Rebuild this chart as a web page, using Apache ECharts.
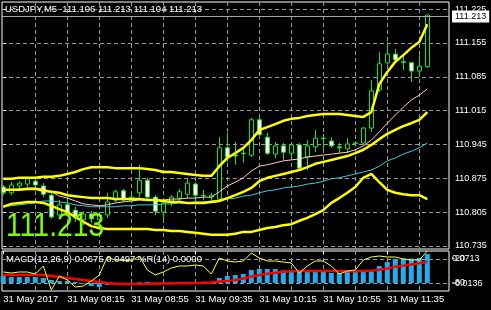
<!DOCTYPE html>
<html><head><meta charset="utf-8">
<script src="https://cdn.jsdelivr.net/npm/echarts@6/dist/echarts.min.js"></script>
<style>html,body{margin:0;padding:0;background:#000;}#c{width:491px;height:310px;}</style>
</head><body><div id="c"></div>
<script>
const times = ['07:35','07:40','07:45','07:50','07:55','08:00','08:05','08:10','08:15','08:20','08:25','08:30','08:35','08:40','08:45','08:50','08:55','09:00','09:05','09:10','09:15','09:20','09:25','09:30','09:35','09:40','09:45','09:50','09:55','10:00','10:05','10:10','10:15','10:20','10:25','10:30','10:35','10:40','10:45','10:50','10:55','11:00','11:05','11:10','11:15','11:20','11:25','11:30','11:35','11:40','11:45','11:50','11:55','12:00'];
const xTickIdx = [0,8,16,24,32,40,48];
const xTickLabels = ['31 May 2017','31 May 08:15','31 May 08:55','31 May 09:35','31 May 10:15','31 May 10:55','31 May 11:35'];
const xGridIdx = [4,8,12,16,20,24,28,32,36,40,44,48,52];
const priceTicks = [110.735,110.805,110.875,110.945,111.015,111.085,111.155,111.225];

const open  = [110.857,110.845,110.859,110.863,110.869,110.859,110.840,110.799,110.820,110.809,110.789,110.801,110.789,110.799,110.830,110.849,110.828,110.845,110.871,110.836,110.805,110.828,110.834,110.842,110.863,110.840,110.836,110.832,110.938,110.923,110.927,110.923,110.996,110.960,110.925,110.942,110.927,110.944,110.919,110.940,110.957,110.952,110.940,110.936,110.948,110.948,110.979,111.058,111.114,111.132,111.116,111.114,111.097,111.106];
const close = [110.845,110.861,110.865,110.874,110.861,110.842,110.795,110.820,110.805,110.793,110.801,110.791,110.799,110.826,110.847,110.830,110.836,110.871,110.836,110.807,110.824,110.836,110.847,110.865,110.840,110.839,110.840,110.938,110.919,110.921,110.926,110.996,110.965,110.927,110.942,110.929,110.944,110.896,110.942,110.958,110.958,110.942,110.938,110.946,110.947,110.979,111.056,111.112,111.132,111.120,111.115,111.097,111.107,111.213];
const low   = [110.840,110.840,110.849,110.857,110.855,110.836,110.791,110.793,110.797,110.785,110.778,110.782,110.780,110.793,110.826,110.826,110.824,110.836,110.832,110.799,110.789,110.818,110.826,110.834,110.826,110.830,110.830,110.830,110.909,110.903,110.907,110.919,110.960,110.923,110.917,110.913,110.915,110.892,110.892,110.929,110.933,110.938,110.927,110.927,110.940,110.944,110.971,111.054,111.110,111.116,111.099,111.074,111.085,111.104];
const high  = [110.861,110.867,110.869,110.878,110.876,110.865,110.845,110.830,110.836,110.816,110.807,110.807,110.805,110.845,110.851,110.853,110.842,110.903,110.876,110.840,110.830,110.840,110.853,110.874,110.867,110.851,110.845,110.960,110.969,110.950,110.940,111.000,111.000,110.969,110.950,110.948,110.948,110.948,110.954,110.975,110.967,110.960,110.948,110.958,110.952,110.981,111.078,111.136,111.157,111.143,111.130,111.116,111.130,111.213];

const bbUpper  = [110.874,110.874,110.876,110.876,110.876,110.878,110.878,110.880,110.884,110.888,110.894,110.898,110.898,110.898,110.896,110.896,110.896,110.896,110.894,110.892,110.888,110.888,110.886,110.884,110.882,110.880,110.880,110.900,110.917,110.927,110.938,110.954,110.975,110.981,110.987,110.994,110.998,111.000,111.004,111.006,111.008,111.008,111.008,111.006,111.004,111.002,111.012,111.070,111.095,111.116,111.130,111.145,111.157,111.194];
const bbMiddle = [110.851,110.851,110.851,110.853,110.853,110.849,110.847,110.845,110.840,110.838,110.836,110.834,110.834,110.834,110.832,110.832,110.832,110.832,110.830,110.830,110.828,110.826,110.826,110.824,110.824,110.824,110.826,110.828,110.834,110.840,110.847,110.855,110.869,110.876,110.880,110.884,110.888,110.892,110.898,110.905,110.909,110.913,110.917,110.921,110.927,110.934,110.944,110.956,110.967,110.975,110.983,110.989,110.996,111.012];
const bbLower  = [110.816,110.822,110.824,110.826,110.826,110.824,110.818,110.811,110.805,110.795,110.785,110.776,110.772,110.770,110.770,110.770,110.770,110.770,110.770,110.768,110.768,110.766,110.766,110.764,110.762,110.760,110.758,110.758,110.758,110.760,110.764,110.764,110.768,110.772,110.774,110.778,110.780,110.787,110.793,110.801,110.809,110.824,110.834,110.845,110.857,110.876,110.884,110.867,110.851,110.845,110.842,110.840,110.840,110.832];
const maFast   = [110.849,110.851,110.853,110.855,110.855,110.853,110.847,110.838,110.834,110.828,110.822,110.820,110.818,110.820,110.824,110.826,110.828,110.830,110.830,110.830,110.830,110.832,110.832,110.834,110.834,110.836,110.836,110.847,110.859,110.867,110.876,110.890,110.900,110.903,110.907,110.911,110.913,110.915,110.919,110.921,110.923,110.925,110.927,110.929,110.934,110.942,110.954,110.971,110.989,111.006,111.022,111.037,111.047,111.060];
const maSlow   = [110.816,110.818,110.820,110.822,110.824,110.828,110.828,110.826,110.824,110.820,110.818,110.816,110.816,110.816,110.816,110.818,110.818,110.820,110.820,110.820,110.822,110.822,110.824,110.824,110.826,110.826,110.828,110.830,110.832,110.834,110.838,110.840,110.845,110.849,110.851,110.855,110.857,110.859,110.863,110.865,110.869,110.874,110.876,110.880,110.884,110.888,110.892,110.900,110.911,110.917,110.925,110.931,110.938,110.948];

const macd   = [0.0163,0.0140,0.0140,0.0140,0.0140,0.0117,0.0070,0.0047,0.0047,0.0023,-0.0012,-0.0070,-0.0093,-0.0047,-0.0023,-0.0012,-0.0010,0.0015,0.0025,0.0010,0.0010,0.0015,0.0020,0.0028,0.0028,0.0028,0.0030,0.0117,0.0163,0.0186,0.0210,0.0303,0.0326,0.0326,0.0326,0.0291,0.0280,0.0256,0.0256,0.0256,0.0256,0.0233,0.0233,0.0256,0.0256,0.0280,0.0303,0.0396,0.0489,0.0559,0.0571,0.0571,0.0583,0.0675];
const signal = [0.0186,0.0186,0.0186,0.0186,0.0186,0.0186,0.0163,0.0140,0.0117,0.0093,0.0070,0.0047,0.0023,0.0000,-0.0015,-0.0020,-0.0020,-0.0020,-0.0018,-0.0015,-0.0012,-0.0010,-0.0008,-0.0005,0.0000,0.0005,0.0012,0.0035,0.0050,0.0070,0.0105,0.0150,0.0185,0.0215,0.0240,0.0262,0.0272,0.0278,0.0280,0.0280,0.0280,0.0280,0.0278,0.0276,0.0276,0.0278,0.0283,0.0310,0.0340,0.0380,0.0405,0.0432,0.0462,0.0497];
const wpr    = [-52.5,-55,-52.5,-52.5,-57.5,-37.5,-97.5,-62.5,-72.5,-90,-87.5,-75,-60,-15,-22.5,-22.5,-25,-12.5,-47.5,-60,-52.5,-42.5,-37.5,-37.5,-35,-37.5,-57.5,-17.5,-25,-27.5,-25,-5,-17.5,-25,-25,-27.5,-30,-55,-37.5,-25,-25,-37.5,-57.5,-50,-47.5,-22.5,-15,-12.5,-15,-15,-20,-22.5,-22.5,0];
const macdLabels = [0.0713,-0.0136];
const wprLevels = [-20,-80];

const FONT = 'Liberation Sans';
const GREEN = '#1ee01e';
const GRIDC = '#9a9a9a';
const last = close.length - 1;
const pair = arr => arr.map((v, i) => [i, v]);
const XMIN = -0.1625, XMAX = 55.7125;

const chart = echarts.init(document.getElementById('c'));
const dashed = {show: true, lineStyle: {color: GRIDC, type: [4, 3], width: 1}};
const lineS = (data, color, width) => ({type: 'line', xAxisIndex: 0, yAxisIndex: 0, data: pair(data), symbol: 'none', silent: true, lineStyle: {color, width}, z: 3});

chart.setOption({
  backgroundColor: '#000',
  animation: false,
  title: [
    {text: 'USDJPY,M5  ' + [open[last], high[last], low[last], close[last]].map(v => v.toFixed(3)).join(' '),
     left: 5, top: 4, padding: 0, textStyle: {color: '#fff', fontSize: 9.5, fontWeight: 'normal', fontFamily: FONT}},
    {text: 'MACD(12,26,9) ' + macd[last].toFixed(4) + ' ' + signal[last].toFixed(4) + ' %R(14) ' + wpr[last].toFixed(4),
     left: 6, top: 254, padding: 0, textStyle: {color: '#fff', fontSize: 9.5, fontWeight: 'normal', fontFamily: FONT}}
  ],
  grid: [
    {left: 2, right: 42, top: 2, height: 247, show: true, borderColor: '#fff', borderWidth: 1, backgroundColor: 'transparent'},
    {left: 2, right: 42, top: 251, height: 40, show: true, borderColor: '#fff', borderWidth: 1, backgroundColor: 'transparent'}
  ],
  xAxis: [
    {type: 'value', gridIndex: 0, min: XMIN, max: XMAX, axisLine: {show: false}, axisLabel: {show: false},
     axisTick: {show: false, customValues: xGridIdx}, splitLine: dashed},
    {type: 'value', gridIndex: 1, min: XMIN, max: XMAX, position: 'bottom', axisLine: {show: false}, axisLabel: {show: false},
     axisTick: {show: false, customValues: xGridIdx}, splitLine: dashed},
    {type: 'value', gridIndex: 1, min: XMIN, max: XMAX, position: 'bottom', axisLine: {show: false},
     axisTick: {show: true, customValues: xTickIdx, length: 3, lineStyle: {color: '#fff'}},
     axisLabel: {customValues: xTickIdx, formatter: v => xTickLabels[xTickIdx.indexOf(Math.round(v))] || '',
       color: '#fff', fontSize: 9.5, fontFamily: FONT, align: 'left', margin: 3},
     splitLine: {show: false}}
  ],
  yAxis: [
    {type: 'value', gridIndex: 0, position: 'right', min: 110.7286, max: 111.2399, axisLine: {show: false},
     axisTick: {show: true, customValues: priceTicks, length: 3, lineStyle: {color: '#fff'}},
     axisLabel: {customValues: priceTicks, formatter: v => v.toFixed(3), color: '#fff', fontSize: 9, fontFamily: FONT, margin: 6},
     splitLine: dashed},
    {type: 'value', gridIndex: 1, position: 'right', min: -0.0186, max: 0.0746, axisLine: {show: false},
     axisTick: {show: false, customValues: macdLabels},
     axisLabel: {customValues: macdLabels, margin: 3,
       formatter: v => (v > 0 ? '{t|' : '{b|') + v.toFixed(4) + '}',
       rich: {t: {padding: [13, 0, 0, 0], color: '#fff', fontSize: 9, fontFamily: FONT},
              b: {padding: [0, 0, 11, 0], color: '#fff', fontSize: 9, fontFamily: FONT}}},
     splitLine: {show: false}},
    {type: 'value', gridIndex: 1, position: 'right', min: -100, max: 0, axisLine: {show: false},
     axisTick: {show: false, customValues: wprLevels},
     axisLabel: {customValues: wprLevels, formatter: v => String(v), color: '#fff', fontSize: 9, fontFamily: FONT, margin: 3},
     splitLine: dashed}
  ],
  graphic: [
    {type: 'text', x: 6, y: 227, scaleX: 0.86, z: 100,
     style: {text: close[last].toFixed(3), fill: '#7cfc00', fontSize: 33, fontFamily: FONT, verticalAlign: 'middle', align: 'left'}}
  ],
  series: [
    {type: 'candlestick', xAxisIndex: 0, yAxisIndex: 0,
     data: open.map((o, i) => [i, o, close[i], low[i], high[i]]),
     encode: {x: 0, y: [1, 2, 3, 4]},
     barWidth: 5, silent: true, z: 2,
     itemStyle: {color: '#000', color0: '#fff', borderColor: GREEN, borderColor0: GREEN, borderColorDoji: GREEN, borderWidth: 1},
     markLine: {symbol: 'none', silent: true, data: [{yAxis: close[last]}],
       lineStyle: {color: '#a8a8a8', type: 'solid', width: 1},
       label: {show: true, position: 'end', distance: 3, formatter: close[last].toFixed(3),
         backgroundColor: '#fff', color: '#000', fontSize: 9, fontFamily: FONT, padding: [2, 3, 1, 3]}}},
    lineS(maSlow, '#40c8dc', 1),
    lineS(maFast, '#ffc8d0', 1),
    lineS(bbLower, '#ffff00', 2.5),
    lineS(bbMiddle, '#ffff00', 2.5),
    lineS(bbUpper, '#ffff00', 2.5),
    {type: 'bar', xAxisIndex: 1, yAxisIndex: 1, data: pair(macd), barWidth: 5, silent: true,
     itemStyle: {color: '#1cb0f0'}},
    {type: 'line', xAxisIndex: 1, yAxisIndex: 1, data: pair(signal), symbol: 'none', silent: true,
     lineStyle: {color: '#ff0000', width: 2.5}},
    {type: 'line', xAxisIndex: 1, yAxisIndex: 2, data: pair(wpr), symbol: 'none', silent: true,
     lineStyle: {color: '#ffff40', width: 1}}
  ]
});
</script>
</body></html>
